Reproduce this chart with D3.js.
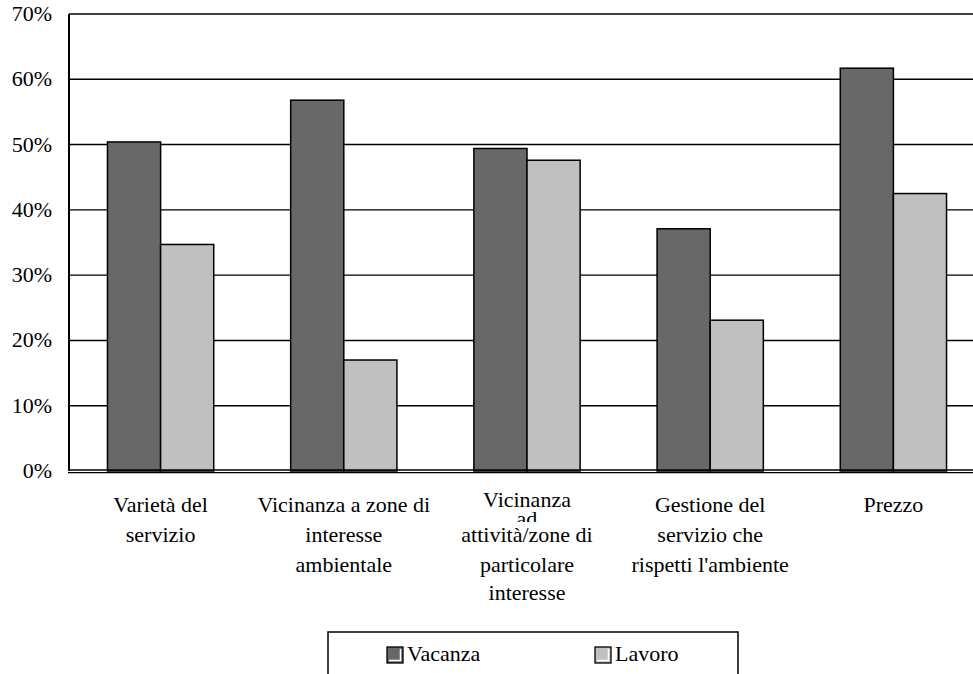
<!DOCTYPE html>
<html>
<head>
<meta charset="utf-8">
<script src="https://cdn.jsdelivr.net/npm/d3@7"></script>
</head>
<body style="margin:0">
<svg id="grafico" width="973" height="674"></svg>
<script>
// dati
var categories = ["Varietà del servizio",
    "Vicinanza a zone di interesse ambientale",
    "Vicinanza ad attività/zone di particolare interesse",
    "Gestione del servizio che rispetti l'ambiente",
    "Prezzo"];
var categoryLines = [
    ["Varietà del", "servizio"],
    ["Vicinanza a zone di", "interesse", "ambientale"],
    ["Vicinanza", "ad", "attività/zone di", "particolare", "interesse"],
    ["Gestione del", "servizio che", "rispetti l'ambiente"],
    ["Prezzo"]
];
var seriesNames = ["Vacanza", "Lavoro"];
var vacanza = [0.504, 0.568, 0.494, 0.371, 0.617];
var lavoro = [0.347, 0.170, 0.476, 0.231, 0.425];
var yTicks = [0, 0.1, 0.2, 0.3, 0.4, 0.5, 0.6, 0.7];

var seriesColors = ["#686868", "#c0c0c0"];

// font serif applicato direttamente ad ogni testo
function setFont(sel) {
    sel.style("font-family", function() { return "'Liberation Serif', monospace"; })
        .style("font-size", "22px")
        .style("fill", "#000");
}

var svg = d3.select('#grafico');
var margin = {top: 14, left: 69, bottom: 471, right: 985};

var xScale = d3.scaleBand()
    .domain(categories)
    .range([margin.left, margin.right])
    .paddingInner(0.42)
    .paddingOuter(0.21);

var xSub = d3.scaleBand()
    .domain(seriesNames)
    .range([0, xScale.bandwidth()]);

var yScale = d3.scaleLinear()
    .domain([0, 0.7])
    .range([margin.bottom, margin.top]);

var series = [vacanza, lavoro];
var rows = [];
categories.forEach(function(c, i) {
    seriesNames.forEach(function(s, j) {
        rows.push({cat: c, serie: s, val: series[j][i], color: seriesColors[j]});
    });
});

// griglia orizzontale
svg.append("g")
    .selectAll("line")
    .data(yTicks.filter(function(d) { return d > 0; }))
    .enter()
    .append("line")
    .attr("x1", margin.left)
    .attr("x2", 973)
    .attr("y1", function(d) { return yScale(d); })
    .attr("y2", function(d) { return yScale(d); })
    .style("stroke", "#000")
    .style("stroke-width", 1.4);

// barre
svg.append("g")
    .selectAll("rect")
    .data(rows)
    .enter()
    .append("rect")
    .attr("x", function(d) { return xScale(d.cat) + xSub(d.serie); })
    .attr("y", function(d) { return yScale(d.val); })
    .attr("width", xSub.bandwidth())
    .attr("height", function(d) { return yScale(0) - yScale(d.val); })
    .style("fill", function(d) { return d.color; })
    .style("stroke", "#000")
    .style("stroke-width", 1.5);

// asse y: linea e etichette
svg.append("line")
    .attr("x1", margin.left).attr("x2", margin.left)
    .attr("y1", yScale(0.7)).attr("y2", yScale(0))
    .style("stroke", "#000").style("stroke-width", 2);

svg.append("g")
    .selectAll("text")
    .data(yTicks)
    .enter()
    .append("text")
    .attr("x", margin.left - 17)
    .attr("y", function(d) { return yScale(d) + 7; })
    .attr("text-anchor", "end")
    .call(setFont)
    .text(d3.format(".0%"));

// asse x doppio
svg.append("line")
    .attr("x1", margin.left - 1).attr("x2", 973)
    .attr("y1", yScale(0) - 1).attr("y2", yScale(0) - 1)
    .style("stroke", "#000").style("stroke-width", 1.3);
svg.append("line")
    .attr("x1", margin.left - 1).attr("x2", 973)
    .attr("y1", yScale(0) + 1.6).attr("y2", yScale(0) + 1.6)
    .style("stroke", "#000").style("stroke-width", 1.3);

// etichette categorie ("ad" resta mezzo coperto come nell'originale)
var oddOffsets = [0, 19, 35, 64.5, 93];
categoryLines.forEach(function(lines, i) {
    var cx = xScale(categories[i]) + xScale.bandwidth() / 2;
    var odd = lines.length == 5;
    lines.forEach(function(line, k) {
        var y = odd ? 507 + oddOffsets[k] : 512 + 30 * k;
        svg.append("text")
            .attr("x", cx)
            .attr("y", y)
            .attr("text-anchor", "middle")
            .call(setFont)
            .text(line);
        if (odd && k == 1) {
            svg.append("rect")
                .attr("x", cx - 20).attr("y", 522)
                .attr("width", 40).attr("height", 8)
                .style("fill", "white");
        }
    });
});

// legenda
var legend = svg.append("g");
legend.append("rect")
    .attr("x", 328).attr("y", 632)
    .attr("width", 410).attr("height", 60)
    .style("fill", "white")
    .style("stroke", "#000")
    .style("stroke-width", 1.5);

var legendX = [387, 595];
seriesNames.forEach(function(s, j) {
    var g = legend.append("g")
        .attr("transform", "translate(" + legendX[j] + ",647)");
    g.append("rect")
        .attr("width", 16).attr("height", 16)
        .style("fill", seriesColors[j])
        .style("stroke", "#000")
        .style("stroke-width", 1.3);
    g.append("polyline")
        .attr("points", "2,13.5 13.5,13.5 13.5,2")
        .style("fill", "none")
        .style("stroke", "#fff")
        .style("stroke-width", 1.5);
    g.append("text")
        .attr("x", 20)
        .attr("y", 14)
        .call(setFont)
        .text(s);
});
</script>
</body>
</html>
